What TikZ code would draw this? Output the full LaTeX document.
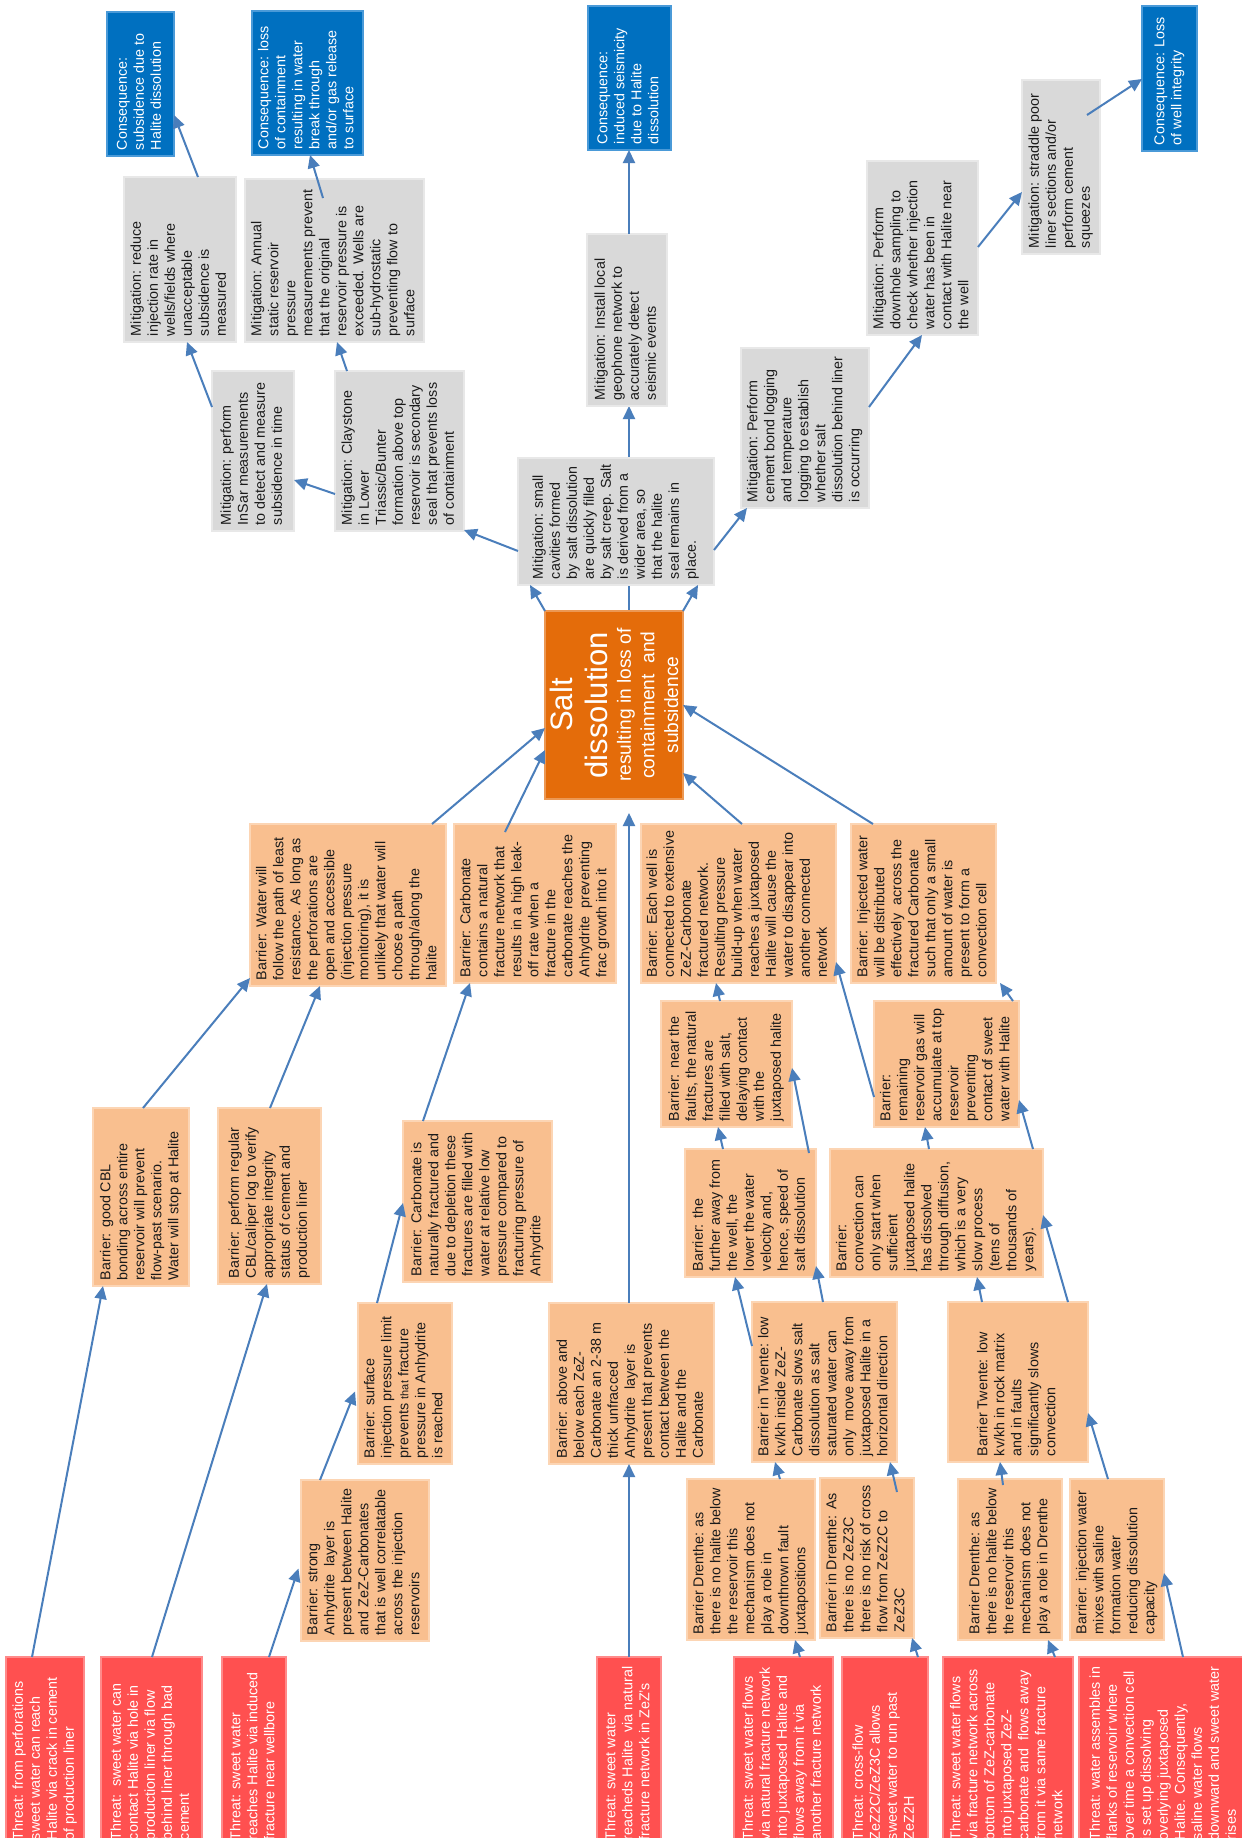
\documentclass[tikz,border=0pt]{standalone}
\usepackage{fontspec}
\setmainfont{Liberation Sans}
\usepackage{graphicx}
\usetikzlibrary{arrows.meta,calc,backgrounds}
\definecolor{arrowc}{HTML}{4A7EBB}
\definecolor{barfill}{HTML}{F9BF8F}
\definecolor{barline}{HTML}{FCD5B4}
\definecolor{mitfill}{HTML}{D9D9D9}
\definecolor{mitline}{HTML}{E8E8E8}
\definecolor{consfill}{HTML}{0070C0}
\definecolor{consline}{HTML}{4A9AD8}
\definecolor{thrfill}{HTML}{FF5050}
\definecolor{thrline}{HTML}{FF8A8A}
\definecolor{topfill}{HTML}{E46C0A}
\definecolor{txtc}{HTML}{1A1A1A}
\newcommand\bx[7]{%
  \pgfmathsetlengthmacro\bxw{(#5-#3)*0.5pt}%
  \pgfmathsetlengthmacro\bxh{(#6-#4)*0.5pt}%
  \pgfmathsetlengthmacro\bxt{(#6-#4)*0.5pt-6pt}%
  \node[#2, minimum width=\bxw, minimum height=\bxh] (#1) at ({(#3+#5)/2},{(#4+#6)/2})
    {\rotatebox{90}{\makebox[\bxt][l]{\fontsize{7.15}{8.5}\selectfont\begin{tabular}{@{}l@{}}#7\end{tabular}}}};}
\tikzset{
  boxbase/.style={inner sep=0pt, outer sep=0pt, line width=0.6pt},
  bar/.style={boxbase, fill=barfill, draw=barline, text=txtc},
  mit/.style={boxbase, fill=mitfill, draw=mitline, text=txtc},
  cons/.style={boxbase, fill=consfill, draw=consline, text=white},
  thr/.style={boxbase, fill=thrfill, draw=thrline, text=white},
  topev/.style={boxbase, fill=topfill, draw=topfill!70!white, text=white},
  arr/.style={draw=arrowc, line width=1pt, -{Triangle[length=6.5pt,width=6pt]}},
}
\begin{document}
\begin{tikzpicture}[x=0.5pt,y=-0.5pt]
\useasboundingbox (0,0) rectangle (1242,1838);
\begin{pgfonlayer}{background}
  \fill[white] (0,0) rectangle (1242,1838);
\end{pgfonlayer}

% ---------------- consequences
\bx{consA}{cons}{107}{12}{174}{156}{Consequence:\\ subsidence due to\\ Halite dissolution}
\bx{consB}{cons}{252}{11}{363}{155}{Consequence: loss\\ of containment\\ resulting in water\\ break through\\ and/or gas release\\ to surface}
\bx{consC}{cons}{588}{6}{671}{150}{Consequence:\\ induced seismicity\\ due to Halite\\ dissolution}
\bx{consD}{cons}{1142}{6}{1197}{151}{Consequence: Loss\\ of well integrity}

% ---------------- mitigations
\bx{mReduce}{mit}{124}{177}{236}{342}{Mitigation: reduce\\ injection rate in\\ wells/fields where\\ unacceptable\\ subsidence is\\ measured}
\bx{mAnnual}{mit}{245}{179}{424}{342}{Mitigation: Annual\\ static reservoir\\ pressure\\ measurements prevent\\ that the original\\ reservoir pressure is\\ exceeded. Wells are\\ sub-hydrostatic\\ preventing flow to\\ surface}
\bx{mInSar}{mit}{212}{371}{294}{531}{Mitigation: perform\\ InSar measurements\\ to detect and measure\\ subsidence in time}
\bx{mClay}{mit}{335}{371}{464}{531}{Mitigation: Claystone\\ in Lower\\ Triassic/Bunter\\ formation above top\\ reservoir is secondary\\ seal that prevents loss\\ of containment}
\bx{mGeo}{mit}{587}{234}{667}{406}{Mitigation: Install local\\ geophone network to\\ accurately detect\\ seismic events}
\bx{mCement}{mit}{741}{348}{869}{508}{Mitigation: Perform\\ cement bond logging\\ and temperature\\ logging to establish\\ whether salt\\ dissolution behind liner\\ is occurring}
\bx{mDown}{mit}{867}{161}{978}{335}{Mitigation: Perform\\ downhole sampling to\\ check whether injection\\ water has been in\\ contact with Halite near\\ the well}
\bx{mStraddle}{mit}{1022}{80}{1100}{254}{Mitigation: straddle poor\\ liner sections and/or\\ perform cement\\ squeezes}
\bx{mSmall}{mit}{518}{458}{714}{585}{Mitigation: small\\ cavities formed\\ by salt dissolution\\ are quickly filled\\ by salt creep. Salt\\ is derived from a\\ wider area, so\\ that the halite\\ seal remains in\\ place.}

% ---------------- top event
\node[topev, minimum width=69pt, minimum height=94pt] (top) at (614,705)
  {\rotatebox{90}{\parbox{90pt}{\centering
   {\fontsize{15.5}{17.5}\selectfont Salt\\ dissolution\par}
   {\fontsize{9.6}{11.8}\selectfont resulting in loss of\\ containment\ \ and\\ subsidence\par}}}};

% ---------------- barriers
\bx{bWater}{bar}{250}{824}{446}{986}{Barrier: Water will\\ follow the path of least\\ resistance. As long as\\ the perforations are\\ open and accessible\\ (injection pressure\\ monitoring), it is\\ unlikely that water will\\ choose a path\\ through/along the\\ halite}
\bx{bCarbC}{bar}{454}{824}{616}{983}{Barrier: Carbonate\\ contains a natural\\ fracture network that\\ results in a high leak-\\ off rate when a\\ fracture in the\\ carbonate reaches the\\ Anhydrite\ \ preventing\\ frac growth into it}
\bx{bEach}{bar}{641}{824}{836}{983}{Barrier: Each well is\\ connected to extensive\\ ZeZ-Carbonate\\ fractured network.\\ Resulting pressure\\ build-up when water\\ reaches a juxtaposed\\ Halite will cause the\\ water to disappear into\\ another connected\\ network}
\bx{bInj}{bar}{851}{824}{996}{983}{Barrier: Injected water\\ will be distributed\\ effectively\ \ across the\\ fractured Carbonate\\ such that only a small\\ amount of water is\\ present to form a\\ convection cell}
\bx{bNear}{bar}{661}{1001}{792}{1127}{Barrier: near the\\ faults, the natural\\ fractures are\\ filled with salt,\\ delaying contact\\ with the\\ juxtaposed halite}
\bx{bRemain}{bar}{874}{1001}{1019}{1127}{Barrier:\\ remaining\\ reservoir gas will\\ accumulate at top\\ reservoir\\ preventing\\ contact of sweet\\ water with Halite}
\bx{bGood}{bar}{93}{1108}{189}{1286}{Barrier: good CBL\\ bonding across entire\\ reservoir will prevent\\ flow-past scenario.\\ Water will stop at Halite}
\bx{bReg}{bar}{218}{1108}{321}{1284}{Barrier: perform regular\\ CBL/caliper log to verify\\ appropriate integrity\\ status of cement and\\ production liner}
\bx{bCarbN}{bar}{403}{1121}{552}{1282}{Barrier: Carbonate is\\ naturally fractured and\\ due to depletion these\\ fractures are filled with\\ water at relative low\\ pressure compared to\\ fracturing pressure of\\ Anhydrite}
\bx{bFurther}{bar}{685}{1149}{816}{1277}{Barrier: the\\ further away from\\ the well, the\\ lower the water\\ velocity and,\\ hence, speed of\\ salt dissolution}
\bx{bConv}{bar}{830}{1149}{1043}{1277}{Barrier:\\ convection can\\ only start when\\ sufficient\\ juxtaposed halite\\ has dissolved\\ through diffusion,\\ which is a very\\ slow process\\ (tens of\\ thousands of\\ years).}
\bx{bSurf}{bar}{358}{1303}{452}{1464}{Barrier: surface\\ injection pressure limit\\ prevents {\fontsize{5.5}{6}\selectfont that} fracture\\ pressure in Anhydrite\\ is reached}
\bx{bAbove}{bar}{549}{1303}{714}{1464}{Barrier: above and\\ below each ZeZ-\\ Carbonate an 2-38 m\\ thick unfracced\\ Anhydrite\ \ layer is\\ present that prevents\\ contact between the\\ Halite and the\\ Carbonate}
\bx{bTw1}{bar}{752}{1302}{897}{1462}{Barrier in Twente: low\\ kv/kh inside ZeZ-\\ Carbonate slows salt\\ dissolution as salt\\ saturated water can\\ only\ \ move away from\\ juxtaposed Halite in a\\ horizontal direction}
\bx{bTw2}{bar}{948}{1302}{1088}{1462}{Barrier Twente: low\\ kv/kh in rock matrix\\ and in faults\\ significantly slows\\ convection}
\bx{bStrong}{bar}{301}{1480}{429}{1641}{Barrier: strong\\ Anhydrite\ \ layer is\\ present between Halite\\ and ZeZ-Carbonates\\ that is well correlatable\\ across the injection\\ reservoirs}
\bx{bDr1}{bar}{687}{1479}{815}{1640}{Barrier Drenthe: as\\ there is no halite below\\ the reservoir this\\ mechanism does not\\ play a role in\\ downthrown fault\\ juxtapositions}
\bx{bDr2}{bar}{820}{1478}{914}{1638}{Barrier in Drenthe: As\\ there is no ZeZ3C\\ there is no risk of cross\\ flow from ZeZ2C to\\ ZeZ3C}
\bx{bDr3}{bar}{958}{1479}{1062}{1640}{Barrier Drenthe: as\\ there is no halite below\\ the reservoir this\\ mechanism does not\\ play a role in Drenthe}
\bx{bMix}{bar}{1070}{1479}{1164}{1640}{Barrier: injection water\\ mixes with saline\\ formation water\\ reducing dissolution\\ capacity}

% ---------------- threats
\bx{t1}{thr}{6}{1657}{84}{1846}{Threat: from perforations\\ sweet water can reach\\ Halite via crack in cement\\ of production liner}
\bx{t2}{thr}{101}{1657}{202}{1846}{Threat:\ \ sweet water can\\ contact Halite via hole in\\ production liner via flow\\ behind liner through bad\\ cement}
\bx{t3}{thr}{222}{1657}{286}{1846}{Threat: sweet water\\ reaches Halite via induced\\ fracture near wellbore}
\bx{t4}{thr}{597}{1657}{661}{1846}{Threat: sweet water\\ reacheds Halite\ \ via natural\\ fracture network in ZeZ's}
\bx{t5}{thr}{734}{1657}{833}{1846}{Threat: sweet water flows\\ via natural fracture network\\ into juxtaposed Halite and\\ flows away from it via\\ another fracture network}
\bx{t6}{thr}{842}{1657}{928}{1846}{Threat: cross-flow\\ ZeZ2C/ZeZ3C allows\\ sweet water to run past\\ ZeZ2H}
\bx{t7}{thr}{943}{1657}{1073}{1846}{Threat: sweet water flows\\ via fracture network across\\ bottom of ZeZ-carbonate\\ into juxtaposed ZeZ-\\ carbonate and\ \ flows away\\ from it via same fracture\\ network}
\bx{t8}{thr}{1079}{1657}{1250}{1846}{Threat: water assembles in\\ flanks of reservoir where\\ over time a convection cell\\ is set up dissolving\\ overlying juxtaposed\\ Halite. Consequently,\\ saline water flows\\ downward and sweet water\\ rises}

% ---------------- connectors: mitigation side
\begin{pgfonlayer}{background}
  \draw[arr] (top.north -| 629,0) -- (mGeo.south -| 629,0);
\end{pgfonlayer}
\draw[arr] (mGeo.north -| 629,0) -- (consC.south -| 629,0);
\draw[arr] (top.north west) -- (mSmall.south -| 530,0);
\draw[arr] (top.north east) -- (mSmall.south -| 698,0);
\draw[arr] (mSmall.west |- 0,551) -- (mClay.east |- 0,530);
\draw[arr] (mSmall.east |- 0,550) -- (mCement.south -| 747,0);
\draw[arr] (mCement.east |- 0,407) -- (mDown.south -| 922,0);
\draw[arr] (mDown.east |- 0,247) -- (mStraddle.west |- 0,192);
\draw[arr] ($(mStraddle.east |- 0,115)+(-13,0)$) -- (consD.west |- 0,79);
\draw[arr] (mClay.west |- 0,494) -- (mInSar.east |- 0,480);
\draw[arr] (mClay.north -| 347,0) -- (mAnnual.south -| 337,0);
\draw[arr] (mInSar.west |- 0,407) -- (mReduce.south -| 187,0);
\draw[arr] (mReduce.north -| 198,0) -- (consA.east |- 0,115);
\draw[arr] ($(mAnnual.north -| 323,0)+(0,19)$) -- (consB.south -| 310,0);

% ---------------- connectors: barrier side
\draw[arr] (bWater.north -| 432,0) -- (top.west |- 0,728);
\draw[arr] ($(bCarbC.north -| 505,0)+(0,8)$) -- (top.west |- 0,750);
\draw[arr, shorten >=7pt] (bAbove.north -| 629,0) -- (top.south -| 629,0);
\draw[arr] (bEach.north -| 742,0) -- (top.east |- 0,773);
\draw[arr] (bInj.north -| 873,0) -- (top.east |- 0,705);
\draw[arr] (bGood.north -| 143,0) -- (bWater.west |- 0,978);
\draw[arr] (bReg.north -| 270,0) -- (bWater.south -| 320,0);
\draw[arr] (bCarbN.north -| 423,0) -- (bCarbC.south -| 470,0);
\draw[arr] (bNear.north -| 720,0) -- (bEach.south -| 716,0);
\draw[arr] (bFurther.north -| 723,0) -- (bNear.south -| 718,0);
\draw[arr] ($(bFurther.north -| 809,0)+(0,4)$) -- (bNear.east |- 0,1068);
\draw[arr] (bRemain.west |- 0,1097) -- (bEach.east |- 0,962);
\draw[arr] (bRemain.north -| 1013,0) -- (bInj.south -| 1000,0);
\draw[arr] (bConv.north -| 929,0) -- (bRemain.south -| 925,0);
\draw[arr] (bConv.north -| 1033,0) -- (bRemain.east |- 0,1100);
\draw[arr] (bTw2.north -| 982,0) -- (bConv.south -| 977,0);
\draw[arr] (bTw2.north -| 1068,0) -- (bConv.east |- 0,1215);
\draw[arr] (bTw1.west |- 0,1346) -- (bFurther.south -| 735,0);
\draw[arr] (bTw1.north -| 823,0) -- (bFurther.east |- 0,1266);
\draw[arr] (bDr1.north -| 780,0) -- (bTw1.south -| 775,0);
\draw[arr] ($(bDr2.north -| 897,0)+(0,14)$) -- (bTw1.south -| 890,0);
\draw[arr] ($(bDr3.north -| 1003,0)+(0,6)$) -- (bTw2.south -| 1000,0);
\draw[arr] (bMix.north -| 1108,0) -- (bTw2.east |- 0,1413);
\draw[arr] (bSurf.north -| 377,0) -- (bCarbN.west |- 0,1203);
\draw[arr, shorten >=4pt] (bStrong.north -| 320,0) -- (bSurf.west |- 0,1384);

% ---------------- connectors: threats
\draw[arr] (t1.north -| 32,0) -- (bGood.south -| 103,0);
\draw[arr] (t2.north -| 152,0) -- (bReg.south -| 267,0);
\draw[arr, shorten >=4pt] (t3.north -| 269,0) -- (bStrong.west |- 0,1561);
\draw[arr] (t4.north -| 629,0) -- (bAbove.south -| 629,0);
\draw[arr] (t5.north -| 800,0) -- (bDr1.south -| 795,0);
\draw[arr] (t6.north -| 918,0) -- (bDr2.south -| 912,0);
\draw[arr] (t7.north -| 1055,0) -- (bDr3.south -| 1048,0);
\draw[arr] (t8.north -| 1183,0) -- (bMix.east |- 0,1573);
\end{tikzpicture}
\end{document}
